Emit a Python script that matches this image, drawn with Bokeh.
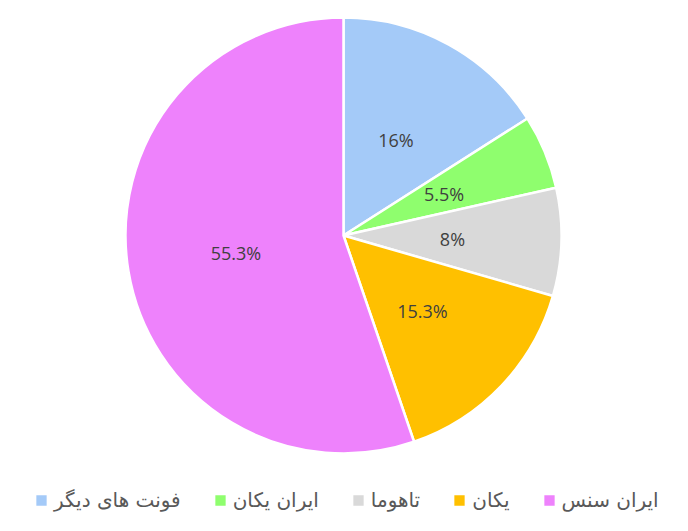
import math
from bokeh.plotting import figure
from bokeh.models import ColumnDataSource, Range1d, Legend, LegendItem
from bokeh.core.properties import value
from bokeh.embed import file_html
from bokeh.resources import INLINE

categories = ["فونت های دیگر", "ایران یکان", "تاهوما", "یکان", "ایران سنس"]
shares = [16, 5.5, 8, 15.3, 55.3]
labels = ["16%", "5.5%", "8%", "15.3%", "55.3%"]
colors = ["#A4CAF8", "#8FFE6E", "#D9D9D9", "#FFC000", "#EE82FC"]

W, H = 672, 515
CX, CY = 343, 235  # pie centre in figure pixels (from left, from top)
R = 218

total = sum(shares)
starts, ends, lx, ly = [], [], [], []
acc = 0.0
for s in shares:
    a0 = math.pi / 2 - 2 * math.pi * acc / total
    acc += s
    a1 = math.pi / 2 - 2 * math.pi * acc / total
    starts.append(a0)
    ends.append(a1)
    mid = (a0 + a1) / 2
    lx.append(0.5 * R * math.cos(mid))
    ly.append(0.5 * R * math.sin(mid))

src = ColumnDataSource(dict(cat=categories, start=starts, end=ends, color=colors,
                            lx=lx, ly=ly, lab=labels))

p = figure(width=W, height=H, output_backend="svg", toolbar_location=None,
           x_range=Range1d(-CX, W - CX), y_range=Range1d(-(H - CY), CY),
           min_border=0, outline_line_color=None)
p.axis.visible = False
p.grid.visible = False
p.background_fill_color = "white"

r = p.wedge(x=0, y=0, radius=R, start_angle="end", end_angle="start",
            direction="anticlock", fill_color="color", line_color="white",
            line_width=2.5, source=src)

p.text(x="lx", y="ly", text="lab", source=src, text_align="center",
       text_baseline="middle", text_color="#404040", text_font_size="18px",
       text_font=value("Open Sans"))

items = [LegendItem(label=c, renderers=[r], index=i) for i, c in enumerate(categories)]
leg = Legend(items=items, orientation="horizontal", location=(33, 3),
             glyph_width=16, glyph_height=16, label_standoff=5, spacing=31,
             padding=0, margin=0, border_line_color=None, background_fill_alpha=0,
             label_text_font="DejaVu Sans", label_text_font_size="20px",
             label_text_color="#595959")
p.add_layout(leg, "center")

open("out.html", "w").write(file_html(p, INLINE))
